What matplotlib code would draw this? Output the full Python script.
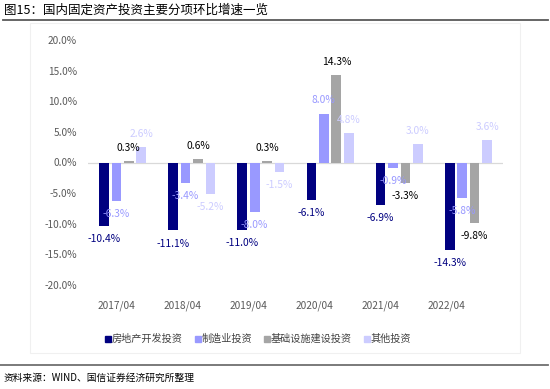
import matplotlib
matplotlib.use("Agg")
import matplotlib.pyplot as plt
import numpy as np
from matplotlib.patches import Rectangle
from matplotlib.lines import Line2D

plt.rcParams['font.family'] = ['Noto Sans CJK SC', 'DejaVu Sans']

categories = ["2017/04", "2018/04", "2019/04", "2020/04", "2021/04", "2022/04"]
series_names = ["房地产开发投资", "制造业投资", "基础设施建设投资", "其他投资"]
real_estate = [-10.4, -11.1, -11.0, -6.1, -6.9, -14.3]
manufacturing = [-6.3, -3.4, -8.0, 8.0, -0.9, -5.8]
infrastructure = [0.3, 0.6, 0.3, 14.3, -3.3, -9.8]
others = [2.6, -5.2, -1.5, 4.8, 3.0, 3.6]
yticks = [20, 15, 10, 5, 0, -5, -10, -15, -20]

series = [real_estate, manufacturing, infrastructure, others]
colors = ["#000080", "#9999FF", "#A5A5A5", "#CCCCFF"]
label_colors = ["#000080", "#9999FF", "#000000", "#CCCCFF"]

W, H = 550, 389
fig = plt.figure(figsize=(W / 100, H / 100), dpi=100)

# faint chart frame
fig.patches.append(Rectangle((30 / W, 1 - 353 / H), 490 / W, 330 / H,
                             transform=fig.transFigure, fill=False,
                             edgecolor="#f0f0f0", linewidth=0.8))

ax = fig.add_axes([88 / W, 1 - 285 / H, 415 / W, 245 / H])
x = np.arange(len(categories))
offsets = [-0.27, -0.09, 0.09, 0.27]
bw = 0.14
for vals, off, c, lc in zip(series, offsets, colors, label_colors):
    bars = ax.bar(x + off, vals, width=bw, color=c, zorder=3)
    for b, v in zip(bars, vals):
        dy = 9.4 if v >= 0 else -9.4
        ax.annotate(f"{v:.1f}%", (b.get_x() + b.get_width() / 2, v),
                    xytext=(0, dy), textcoords="offset points",
                    ha="center", va="center", fontsize=7.4, color=lc, zorder=4)

ax.axhline(0, color="#d9d9d9", linewidth=0.9, zorder=2)
ax.set_xlim(-0.5, 5.5)
ax.set_ylim(-20, 20)
ax.set_yticks(yticks)
ax.set_yticklabels([f"{v:.1f}%" for v in yticks])
ax.set_xticks(-0.087 + 0.954 * x)
ax.set_xticklabels(categories)
ax.tick_params(axis="y", length=0, pad=8, labelsize=7.3, labelcolor="#595959")
ax.tick_params(axis="x", length=0, pad=11, labelsize=7.3, labelcolor="#595959")
for s in ax.spines.values():
    s.set_visible(False)

handles = [Line2D([], [], marker="s", linestyle="none", markersize=4,
                  markerfacecolor=c, markeredgecolor=c) for c in colors]
fig.legend(handles, series_names, loc="center", ncol=4,
           bbox_to_anchor=(258 / W, 1 - 339 / H), frameon=False,
           fontsize=7.3, handlelength=0.6, handletextpad=0.05,
           columnspacing=1.2, labelcolor="#404040")

# title and rules
fig.text(4 / W, 1 - 10 / H, "图15：国内固定资产投资主要分项环比增速一览",
         fontsize=9, va="center", ha="left", color="#000000", weight="medium")
fig.add_artist(Line2D([3 / W, 548 / W], [1 - 19.5 / H, 1 - 19.5 / H],
                      transform=fig.transFigure, color="#595959", linewidth=1.3))
fig.add_artist(Line2D([0, 548 / W], [1 - 365 / H, 1 - 365 / H],
                      transform=fig.transFigure, color="#707070", linewidth=1.3))
fig.text(4 / W, 1 - 378 / H, "资料来源：WIND、国信证券经济研究所整理",
         fontsize=7, va="center", ha="left", color="#000000")

fig.savefig("out.png", dpi=100)
